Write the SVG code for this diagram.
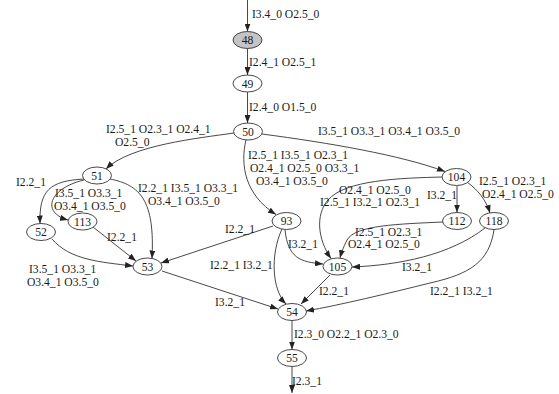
<svg xmlns="http://www.w3.org/2000/svg" width="559" height="394" viewBox="0 0 559 394">
<style>
text{font-family:"Liberation Serif","Times New Roman",serif;font-size:11.6px;fill:#1a1a1a}
.n ellipse{fill:#fff;stroke:#333;stroke-width:0.9}
.n text{text-anchor:middle}
#edges path{fill:none;stroke:#333;stroke-width:0.9;marker-end:url(#ah)}
</style>
<defs>
<marker id="ah" viewBox="0 0 8 6" refX="8" refY="3" markerWidth="8" markerHeight="6" markerUnits="userSpaceOnUse" orient="auto">
<path d="M0,0 L8,3 L0,6 Z" fill="#222"/>
</marker>
</defs>
<rect width="559" height="394" fill="#fff"/>
<g id="edges">
<path d="M247.5,0 L247.5,31.5"/>
<path d="M247.5,48.5 L247.5,75"/>
<path d="M247.5,92 L247.5,123"/>
<path d="M234,133 C200,138 130,145 106,169"/>
<path d="M262,134 C330,143 400,155 445,171.5"/>
<path d="M246,140 C240,165 245,195 276,214.5"/>
<path d="M84,179 C50,181 39,190 40,223.5"/>
<path d="M84,180 C50,188 40,212 68,220"/>
<path d="M110,179 C140,185 155,200 152,258.5"/>
<path d="M52,239 C70,260 100,262 133,266"/>
<path d="M93,227 L136,261"/>
<path d="M273,226 L161,263"/>
<path d="M282,229 C270,255 272,290 286,304"/>
<path d="M285,230 C288,258 300,262 323,264"/>
<path d="M443,177 C400,178 345,180 328,200 C315,215 318,240 331,258.5"/>
<path d="M457,186 L457,212.5"/>
<path d="M467,182 C478,190 486,200 490,213"/>
<path d="M443,222 C400,224 355,225 347,240 C343,248 341,254 340,258"/>
<path d="M485,228 C450,255 400,265 352,267"/>
<path d="M494,230 C489,262 470,274 430,283 C390,293 340,305 306,311"/>
<path d="M162,271 L278,309"/>
<path d="M330,275 L301,304"/>
<path d="M292,320.5 L292,349.5"/>
<path d="M292,366.5 L292,393"/>
</g>
<g id="edge-labels">
<text x="252" y="18">I3.4_0 O2.5_0</text>
<text x="249" y="66">I2.4_1 O2.5_1</text>
<text x="249" y="111">I2.4_0 O1.5_0</text>
<text x="106" y="132.5">I2.5_1 O2.3_1 O2.4_1</text>
<text x="115" y="145.5">O2.5_0</text>
<text x="318" y="135">I3.5_1 O3.3_1 O3.4_1 O3.5_0</text>
<text x="248" y="158.5">I2.5_1 I3.5_1 O2.3_1</text>
<text x="250" y="171.5">O2.4_1 O2.5_0 O3.3_1</text>
<text x="256" y="184.5">O3.4_1 O3.5_0</text>
<text x="16" y="186">I2.2_1</text>
<text x="55" y="197">I3.5_1 O3.3_1</text>
<text x="54" y="209.5">O3.4_1 O3.5_0</text>
<text x="138" y="192">I2.2_1 I3.5_1 O3.3_1</text>
<text x="148" y="204.5">O3.4_1 O3.5_0</text>
<text x="107" y="241">I2.2_1</text>
<text x="29" y="273">I3.5_1 O3.3_1</text>
<text x="27" y="286">O3.4_1 O3.5_0</text>
<text x="225" y="233">I2.2_1</text>
<text x="210" y="269">I2.2_1 I3.2_1</text>
<text x="288" y="248">I3.2_1</text>
<text x="339" y="194">O2.4_1 O2.5_0</text>
<text x="320" y="206">I2.5_1 I3.2_1 O2.3_1</text>
<text x="427" y="199">I3.2_1</text>
<text x="479" y="185">I2.5_1 O2.3_1</text>
<text x="482" y="197.5">O2.4_1 O2.5_0</text>
<text x="355" y="236">I2.5_1 O2.3_1</text>
<text x="348" y="248">O2.4_1 O2.5_0</text>
<text x="402" y="271">I3.2_1</text>
<text x="430" y="295">I2.2_1 I3.2_1</text>
<text x="215" y="306">I3.2_1</text>
<text x="319" y="295">I2.2_1</text>
<text x="294" y="338">I2.3_0 O2.2_1 O2.3_0</text>
<text x="292" y="385">I2.3_1</text>
</g>
<g id="n48" class="n"><ellipse cx="247.5" cy="40" rx="14.5" ry="8.5" style="fill:#c4c4c4"/><text x="247.5" y="44">48</text></g>
<g id="n49" class="n"><ellipse cx="247.5" cy="83.5" rx="14.5" ry="8.5"/><text x="247.5" y="87.5">49</text></g>
<g id="n50" class="n"><ellipse cx="248" cy="131.5" rx="14.5" ry="8.5"/><text x="248" y="135.5">50</text></g>
<g id="n51" class="n"><ellipse cx="97" cy="175.5" rx="14.5" ry="8.5"/><text x="97" y="179.5">51</text></g>
<g id="n52" class="n"><ellipse cx="41" cy="232" rx="14.5" ry="8.5"/><text x="41" y="236">52</text></g>
<g id="n113" class="n"><ellipse cx="82.5" cy="221.5" rx="14.5" ry="8.5"/><text x="82.5" y="225.5">113</text></g>
<g id="n93" class="n"><ellipse cx="286.5" cy="221" rx="14.5" ry="8.5"/><text x="286.5" y="225">93</text></g>
<g id="n104" class="n"><ellipse cx="456.5" cy="177" rx="14.5" ry="8.5"/><text x="456.5" y="181">104</text></g>
<g id="n112" class="n"><ellipse cx="457" cy="221" rx="14.5" ry="8.5"/><text x="457" y="225">112</text></g>
<g id="n118" class="n"><ellipse cx="494" cy="221" rx="14.5" ry="8.5"/><text x="494" y="225">118</text></g>
<g id="n53" class="n"><ellipse cx="147.5" cy="266.5" rx="14.5" ry="8.5"/><text x="147.5" y="270.5">53</text></g>
<g id="n105" class="n"><ellipse cx="337.5" cy="266.5" rx="14.5" ry="8.5"/><text x="337.5" y="270.5">105</text></g>
<g id="n54" class="n"><ellipse cx="292" cy="312" rx="14.5" ry="8.5"/><text x="292" y="316">54</text></g>
<g id="n55" class="n"><ellipse cx="292" cy="358" rx="14.5" ry="8.5"/><text x="292" y="362">55</text></g>
</svg>
